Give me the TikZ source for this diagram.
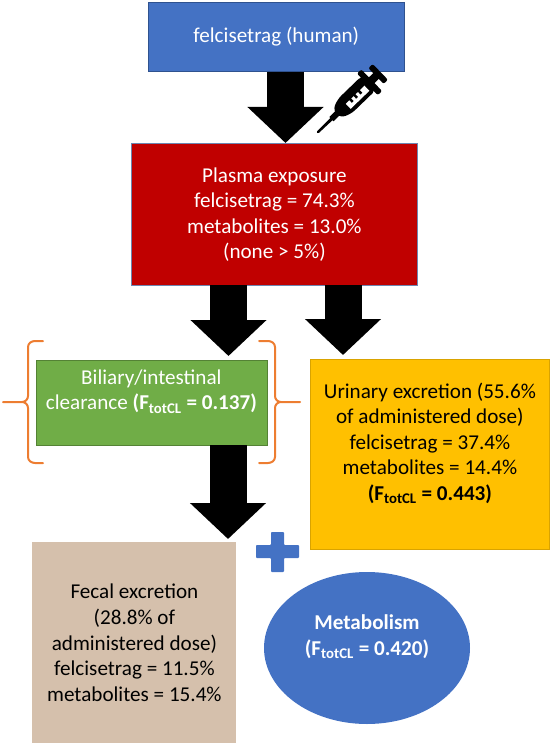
\documentclass[tikz,border=0pt]{standalone}
\usepackage{fontspec}
\setmainfont{Carlito}
\usetikzlibrary{arrows.meta,calc,shapes.geometric}
\definecolor{mblue}{HTML}{4472C4}
\definecolor{mred}{HTML}{C00000}
\definecolor{mgreen}{HTML}{70AD47}
\definecolor{myellow}{HTML}{FFC000}
\definecolor{mtan}{HTML}{D5C0AC}
\definecolor{morange}{HTML}{ED7D31}
\definecolor{mline}{HTML}{2F528F}
\newcommand{\Ftot}{F\textsubscript{totCL}}
\tikzset{
  x=0.75pt,y=-0.75pt,
  txt/.style={align=center,font=\fontsize{15.85}{19.2}\selectfont,inner sep=0pt},
  box/.style={txt,fill=#1,text=white,line width=0.6pt,anchor=north west},
  blockarrow/.style={line width=27.75pt,black,-{Triangle[length=27pt,width=55.5pt]}},
  bracket/.style={draw=morange,line width=1.5pt,line cap=round,line join=round},
}
\begin{document}
\begin{tikzpicture}
\useasboundingbox (0,0) rectangle (550,745);
\node[box=mblue,draw=mline,minimum width=192.6pt,minimum height=51.75pt] (top) at (147.5,2) {felcisetrag (human)};
\node[box=mred,draw=mline!70,minimum width=214.5pt,minimum height=106pt] (plasma) at (131,143.5) {Plasma exposure\\felcisetrag = 74.3\%\\metabolites = 13.0\%\\(none > 5\%)};
\node[box=mgreen,draw=mgreen!75!black,minimum width=173.25pt,minimum height=63.75pt] (bil) at (35.5,359.5) {Biliary/intestinal\\clearance \textbf{(\Ftot{} = 0.137)}\\\mbox{}};
\node[box=myellow,draw=myellow!85!black,text=black,minimum width=179.25pt,minimum height=142.5pt] (urine) at (310,359) {Urinary excretion (55.6\%\\of administered dose)\\felcisetrag = 37.4\%\\metabolites = 14.4\%\\\textbf{(\Ftot{} = 0.443)}\\\mbox{}};
\node[box=mtan,text=black,minimum width=153pt,minimum height=150.75pt] (fecal) at (32,542) {Fecal excretion\\(28.8\% of\\administered dose)\\felcisetrag = 11.5\%\\metabolites = 15.4\%};
\node[ellipse,txt,fill=mblue,text=white,font=\fontsize{15.85}{19.2}\selectfont\bfseries,minimum width=154.5pt,minimum height=114pt] (met) at (367,648) {Metabolism\\(\Ftot{} = 0.420)\\\mbox{}};
% plus
\fill[mblue,rounded corners=0.6pt] (271,532) -- (284,532) -- (284,545) -- (299,545) -- (299,558) -- (284,558) -- (284,572) -- (271,572) -- (271,558) -- (256,558) -- (256,545) -- (271,545) -- cycle;
% block arrows
\coordinate (a1s) at (285.5,72); \coordinate (a1e) at (285.5,143);
\coordinate (a2s) at (228.5,285); \coordinate (a2e) at (228.5,356);
\coordinate (a3s) at (343,285); \coordinate (a3e) at (343,355);
\coordinate (a4s) at (228,445); \coordinate (a4e) at (228,539);
\draw[blockarrow] (a1s) -- (a1e);
\draw[blockarrow] (a2s) -- (a2e);
\draw[blockarrow] (a3s) -- (a3e);
\draw[blockarrow] (a4s) -- (a4e);
% brackets
\draw[bracket] (43,341) -- (35,341) to[out=180,in=90] (28,347) -- (28,396) to[out=-90,in=0] (22,402) -- (3,402) -- (22,402) to[out=0,in=90] (28,408) -- (28,457) to[out=-90,in=180] (35,463) -- (43,463);
\draw[bracket] (259,341) -- (268,341) to[out=0,in=90] (275,347) -- (275,396) to[out=-90,in=180] (281,402) -- (300,402) -- (281,402) to[out=180,in=90] (275,408) -- (275,457) to[out=-90,in=0] (268,463) -- (259,463);
% syringe
\begin{scope}[shift={(317,133)},rotate=44]
  \fill[black,rounded corners=1pt] (0,-1.2) -- (22,-1.6) -- (22,1.6) -- (0,1.2) -- cycle;
  \fill[black] (20,-3) rectangle (30,3);
  \fill[black,rounded corners=4pt] (27,-5) -- (38,-10) -- (73,-10) -- (73,10) -- (38,10) -- (27,5) -- cycle;
  \fill[black,rounded corners=1.5pt] (70,-15) rectangle (76,15);
  \fill[black] (74,-4) rectangle (84,4);
  \fill[black,rounded corners=1.5pt] (82,-11) rectangle (88,11);
  \fill[white] (41,-1) rectangle (67,6);
  \fill[black] (46,-2) rectangle (48.5,2.5);
  \fill[black] (52,-2) rectangle (54.5,2.5);
  \fill[black] (58,-2) rectangle (60.5,2.5);
\end{scope}
\end{tikzpicture}
\end{document}
